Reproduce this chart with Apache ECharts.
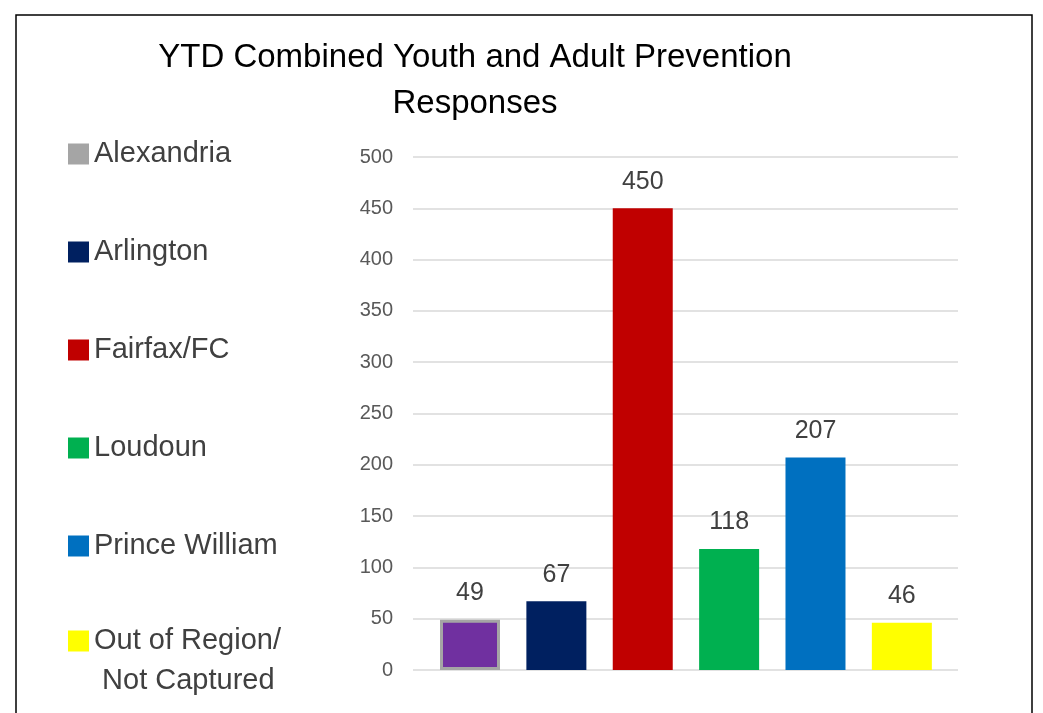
<!DOCTYPE html>
<html>
<head>
<meta charset="utf-8">
<script src="https://cdn.jsdelivr.net/npm/echarts@6/dist/echarts.min.js"></script>
<style>
  html, body { margin: 0; padding: 0; background: #fff; }
  #chart { width: 1043px; height: 713px; }
</style>
</head>
<body>
<div id="chart"></div>
<script>
// regions, one bar each
var regions = ['Alexandria', 'Arlington', 'Fairfax/FC', 'Loudoun', 'Prince William', 'Out of Region/\nNot Captured'];
var responses = [49, 67, 450, 118, 207, 46];
var barColors = ['#7030a0', '#002060', '#c00000', '#00b050', '#0070c0', '#ffff00'];
var legendColors = ['#a5a5a5', '#002060', '#c00000', '#00b050', '#0070c0', '#ffff00'];
var yTicks = [0, 50, 100, 150, 200, 250, 300, 350, 400, 450, 500];

var font = 'Liberation Sans';
var textColor = '#404040';

var series = regions.map(function (name, i) {
    var s = {
        name: name,
        type: 'bar',
        barWidth: 60,
        barGap: '-100%',
        data: [[i, responses[i]]],
        itemStyle: { color: barColors[i] },
        label: {
            show: true,
            position: 'top',
            distance: 14,
            fontFamily: font,
            fontSize: 25,
            color: textColor
        }
    };
    if (i === 0) {
        s.itemStyle.borderColor = '#a5a5a5';
        s.itemStyle.borderWidth = 3;
    }
    return s;
});

var legendData = regions.map(function (name, i) {
    return { name: name, itemStyle: { color: legendColors[i], borderWidth: 0 } };
});

var legendBase = {
    orient: 'vertical',
    left: 68,
    height: 700,
    padding: 0,
    icon: 'rect',
    itemWidth: 21,
    itemHeight: 21,
    itemGap: 60,
    selectedMode: false,
    textStyle: {
        fontFamily: font,
        fontSize: 29,
        color: textColor,
        lineHeight: 38
    }
};

var chart = echarts.init(document.getElementById('chart'));
chart.setOption({
    backgroundColor: '#fff',
    animation: false,
    title: {
        text: 'YTD Combined Youth and Adult Prevention\nResponses',
        left: 470,
        top: 30,
        textAlign: 'center',
        textStyle: {
            fontFamily: font,
            fontSize: 33,
            fontWeight: 'normal',
            color: '#000',
            lineHeight: 46
        }
    },
    legend: [
        Object.assign({}, legendBase, { top: 135, data: legendData.slice(0, 5) }),
        // two-line entry: blank first line keeps the icon level with "Out of Region/"
        Object.assign({}, legendBase, {
            top: 581,
            data: legendData.slice(5),
            textStyle: Object.assign({}, legendBase.textStyle, { lineHeight: 40 }),
            formatter: function (name) { return '\n' + name.replace('\n', '\n '); }
        })
    ],
    grid: { left: 413, right: 85, top: 157, bottom: 43 },
    xAxis: {
        type: 'value',
        min: -0.66,
        max: 5.65,
        axisLine: { show: false },
        axisTick: { show: false },
        axisLabel: { show: false },
        splitLine: { show: false }
    },
    yAxis: {
        type: 'value',
        min: 0,
        max: 500,
        interval: 50,
        axisLine: { show: false },
        axisTick: { show: false },
        axisLabel: {
            fontFamily: font,
            fontSize: 20,
            color: '#595959',
            margin: 20,
            customValues: yTicks
        },
        splitLine: { lineStyle: { color: '#d9d9d9', width: 1.5 } }
    },
    graphic: [{
        type: 'rect',
        shape: { x: 16, y: 15, width: 1016, height: 720 },
        style: { fill: null, stroke: '#000', lineWidth: 1.5 },
        silent: true
    }],
    series: series
});
</script>
</body>
</html>
